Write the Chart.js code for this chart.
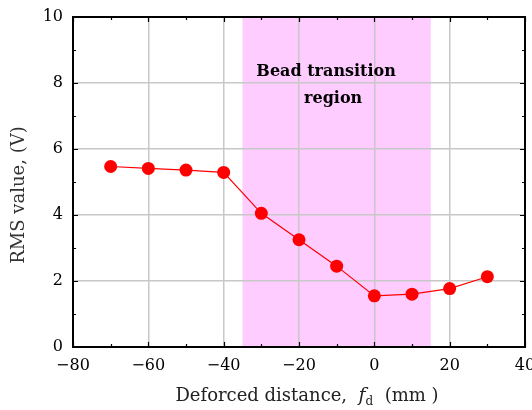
<!DOCTYPE html>
<html>
<head>
<meta charset="utf-8">
<script src="https://cdn.jsdelivr.net/npm/chart.js@4.4.1/dist/chart.umd.min.js"></script>
<style>
  html, body { margin: 0; padding: 0; background: #fff; }
</style>
</head>
<body>
<canvas id="rmsChart" width="532" height="410"></canvas>
<script>
// RMS value vs deforced distance
const DISTANCE_MM = [-70, -60, -50, -40, -30, -20, -10, 0, 10, 20, 30];
const RMS_V = [5.47, 5.41, 5.36, 5.29, 4.05, 3.25, 2.45, 1.55, 1.6, 1.77, 2.13];

const X_RANGE = [-80, 40];
const Y_RANGE = [0, 10];
const X_MAJOR = 20, X_MINOR = 10;
const Y_MAJOR = 2, Y_MINOR = 1;

const REGION_MM = [-35, 15];
const REGION_LABEL = ["Bead transition", "region"];
const REGION_LABEL_AT = { x: -12.8, y: 8.35 };

const Y_TITLE = "RMS value, (V)";

const SERIF = "'DejaVu Serif', 'Liberation Serif', serif";
const minus = (v) => String(v).replace("-", "\u2212");

// pink band behind the grid
const regionBand = {
  id: "regionBand",
  beforeDraw(chart) {
    const { ctx, chartArea: a, scales: { x } } = chart;
    const x0 = x.getPixelForValue(REGION_MM[0]);
    const x1 = x.getPixelForValue(REGION_MM[1]);
    ctx.save();
    ctx.fillStyle = "#ffccff";
    ctx.fillRect(x0, a.top, x1 - x0, a.bottom - a.top);
    ctx.restore();
  },
  afterDatasetsDraw(chart) {
    const { ctx, scales: { x, y } } = chart;
    const cx = x.getPixelForValue(REGION_LABEL_AT.x);
    const cy = y.getPixelForValue(REGION_LABEL_AT.y);
    ctx.save();
    ctx.fillStyle = "#000";
    ctx.font = "bold 16px " + SERIF;
    ctx.textAlign = "center";
    ctx.textBaseline = "middle";
    ctx.fillText(REGION_LABEL[0], cx, cy);
    ctx.fillText(REGION_LABEL[1], cx + 7, cy + 27);
    ctx.restore();
  }
};

// frame, inward ticks on all sides, and both axis titles
const frameTicks = {
  id: "frameTicks",
  afterDraw(chart) {
    const { ctx, chartArea: a, scales: { x, y } } = chart;
    ctx.save();
    ctx.strokeStyle = "#000";
    ctx.lineWidth = 1.2;
    ctx.beginPath();
    for (let v = X_RANGE[0]; v <= X_RANGE[1]; v += X_MINOR) {
      const px = Math.round(x.getPixelForValue(v)) + 0.5;
      const len = v % X_MAJOR === 0 ? 5 : 3;
      ctx.moveTo(px, a.bottom); ctx.lineTo(px, a.bottom - len);
      ctx.moveTo(px, a.top); ctx.lineTo(px, a.top + len);
    }
    for (let v = Y_RANGE[0]; v <= Y_RANGE[1]; v += Y_MINOR) {
      const py = Math.round(y.getPixelForValue(v)) + 0.5;
      const len = v % Y_MAJOR === 0 ? 5 : 3;
      ctx.moveTo(a.left, py); ctx.lineTo(a.left + len, py);
      ctx.moveTo(a.right, py); ctx.lineTo(a.right - len, py);
    }
    ctx.stroke();
    ctx.lineWidth = 2;
    ctx.strokeRect(a.left, a.top, a.right - a.left, a.bottom - a.top);

    // x axis title: Deforced distance, fd (mm)
    const parts = [
      { t: "Deforced distance,  ", f: "18px " + SERIF, dy: 0 },
      { t: "f", f: "italic 19px " + SERIF, dy: 0 },
      { t: "d", f: "12px " + SERIF, dy: 4 },
      { t: "  (mm )", f: "18px " + SERIF, dy: 0 }
    ];
    let total = 0;
    parts.forEach(p => { ctx.font = p.f; p.w = ctx.measureText(p.t).width; total += p.w; });
    let px = 307 - total / 2;
    ctx.fillStyle = "#222";
    ctx.textBaseline = "alphabetic";
    ctx.textAlign = "left";
    parts.forEach(p => { ctx.font = p.f; ctx.fillText(p.t, px, 401 + p.dy); px += p.w; });

    // y axis title, rotated
    ctx.translate(19, 195);
    ctx.rotate(-Math.PI / 2);
    ctx.font = "18px " + SERIF;
    ctx.fillStyle = "#333";
    ctx.textAlign = "center";
    ctx.textBaseline = "middle";
    ctx.fillText(Y_TITLE, 0, 0);
    ctx.restore();
  }
};

new Chart(document.getElementById("rmsChart"), {
  type: "scatter",
  data: {
    datasets: [{
      label: "RMS value",
      data: DISTANCE_MM.map((d, i) => ({ x: d, y: RMS_V[i] })),
      showLine: true,
      borderColor: "#ff0000",
      borderWidth: 1.2,
      backgroundColor: "#ff0000",
      pointRadius: 6.5,
      pointHoverRadius: 6.5,
      pointBorderWidth: 0
    }]
  },
  options: {
    responsive: false,
    animation: false,
    devicePixelRatio: 1,
    layout: { padding: { left: 0, top: 17, right: 7, bottom: 0 } },
    plugins: { legend: { display: false }, tooltip: { enabled: false } },
    scales: {
      x: {
        type: "linear",
        min: X_RANGE[0], max: X_RANGE[1],
        afterFit: (s) => { s.height = 63; s.paddingLeft = 0; s.paddingRight = 0; },
        ticks: {
          stepSize: X_MAJOR,
          color: "#000",
          font: { family: SERIF, size: 16 },
          padding: 9,
          maxRotation: 0,
          callback: (v) => minus(v)
        },
        grid: { color: "#c8c8c8", lineWidth: 1.5, drawTicks: false },
        border: { display: false }
      },
      y: {
        type: "linear",
        min: Y_RANGE[0], max: Y_RANGE[1],
        afterFit: (s) => { s.width = 73; s.paddingTop = 0; s.paddingBottom = 0; },
        ticks: {
          stepSize: Y_MAJOR,
          color: "#000",
          font: { family: SERIF, size: 16 },
          padding: 10,
          callback: (v) => minus(v)
        },
        grid: { color: "#c8c8c8", lineWidth: 1.5, drawTicks: false },
        border: { display: false }
      }
    }
  },
  plugins: [regionBand, frameTicks]
});
</script>
</body>
</html>
